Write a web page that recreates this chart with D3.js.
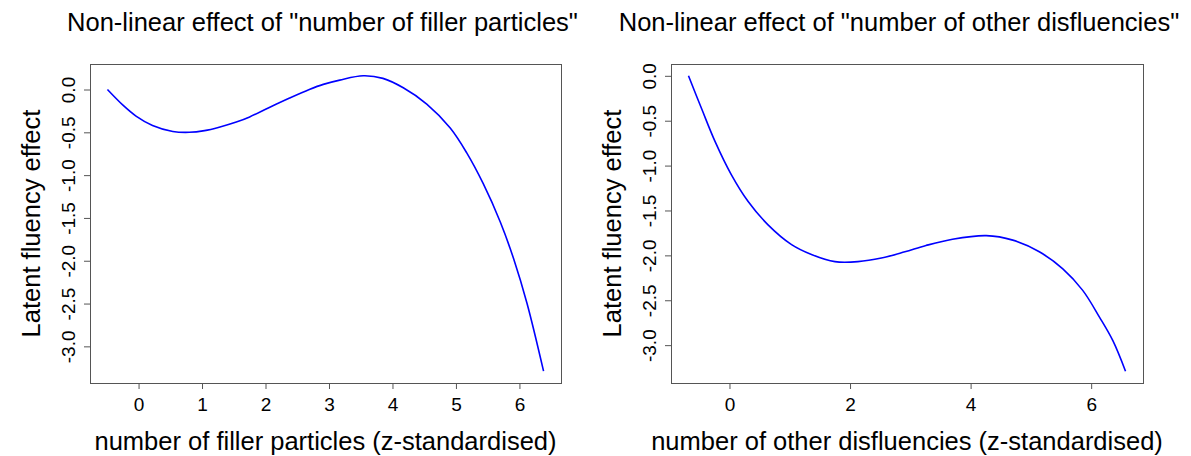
<!DOCTYPE html>
<html>
<head>
<meta charset="utf-8">
<script src="https://cdn.jsdelivr.net/npm/d3@7"></script>
<style>
  html, body { margin: 0; padding: 0; background: #fff; }
  svg { display: block; }
  text { font-family: "Liberation Sans", Arial, sans-serif; fill: #000; }
</style>
</head>
<body>
<svg id="chart" width="1191" height="456"></svg>
<script>
// ---- data ----
const fillerX = [-0.49, -0.25, -0.04, 0.22, 0.54, 0.80, 1.04, 1.27, 1.54, 1.75, 2.06, 2.38, 2.69, 2.91, 3.17, 3.54, 3.85, 4.17, 4.54, 4.91, 5.17, 5.43, 5.70, 5.91, 6.12, 6.38];
const fillerY = [0.0, -0.18, -0.31, -0.42, -0.49, -0.50, -0.48, -0.44, -0.38, -0.32, -0.21, -0.10, 0.0, 0.06, 0.11, 0.16, 0.13, 0.02, -0.17, -0.45, -0.74, -1.10, -1.55, -1.98, -2.50, -3.29];
const otherX = [-0.68, -0.46, -0.24, 0.03, 0.31, 0.64, 1.03, 1.36, 1.75, 2.13, 2.52, 2.91, 3.26, 3.70, 4.26, 4.70, 5.14, 5.53, 5.86, 6.14, 6.36, 6.57];
const otherY = [0.0, -0.37, -0.73, -1.10, -1.40, -1.66, -1.88, -1.99, -2.07, -2.07, -2.03, -1.96, -1.89, -1.82, -1.78, -1.83, -1.96, -2.15, -2.39, -2.69, -2.95, -3.29];
const fillerXTicks = [0, 1, 2, 3, 4, 5, 6];
const otherXTicks = [0, 2, 4, 6];
const yTicks = [0.0, -0.5, -1.0, -1.5, -2.0, -2.5, -3.0];
const titles = ['Non-linear effect of "number of filler particles"', 'Non-linear effect of "number of other disfluencies"'];
const xTitles = ['number of filler particles (z-standardised)', 'number of other disfluencies (z-standardised)'];
const yTitle = 'Latent fluency effect';

const svg = d3.select('#chart');
const FONT = '"Liberation Sans", Arial, sans-serif';
const fmtY = d => (d < 0 ? '-' : '') + Math.abs(d).toFixed(1);

function rDomain(arr) {
  const [a, b] = d3.extent(arr);
  const pad = (b - a) * 0.04;
  return [a - pad, b + pad];
}

function panel(cfg) {
  const { left, right, top, bottom, xs, ys, xTicks, title, xTitle, titleShift } = cfg;
  const x = d3.scaleLinear().domain(rDomain(xs)).range([left, right]);
  const y = d3.scaleLinear().domain(rDomain(ys)).range([bottom, top]);
  const g = svg.append('g');

  // x axis
  const xa = g.append('g').attr('transform', `translate(0,${bottom})`)
    .call(d3.axisBottom(x).tickValues(xTicks).tickSize(6).tickPadding(9).tickFormat(d => String(d)));
  xa.select('.domain').remove();
  xa.selectAll('line').attr('stroke', '#555');
  xa.selectAll('text').style('font-size', '19px').style('font-family', FONT);

  // y axis
  const ya = g.append('g').attr('transform', `translate(${left},0)`)
    .call(d3.axisLeft(y).tickValues(yTicks).tickSize(6).tickFormat(fmtY));
  ya.select('.domain').remove();
  ya.selectAll('line').attr('stroke', '#555');
  ya.selectAll('text')
    .style('font-size', '19px')
    .style('font-family', FONT)
    .attr('x', null).attr('dy', null)
    .attr('text-anchor', 'middle')
    .attr('dominant-baseline', 'central')
    .attr('transform', 'translate(-22,0) rotate(-90)');

  // box
  g.append('rect')
    .attr('x', left + 0.5).attr('y', top + 0.5)
    .attr('width', right - left).attr('height', bottom - top)
    .attr('fill', 'none').attr('stroke', '#555').attr('stroke-width', 1);

  // curve
  const pts = xs.map((v, i) => [v, ys[i]]);
  g.append('path')
    .datum(pts)
    .attr('fill', 'none')
    .attr('stroke', '#0000ff')
    .attr('stroke-width', 1.6)
    .attr('d', d3.line().x(d => x(d[0])).y(d => y(d[1])).curve(d3.curveCatmullRom.alpha(0.5)));

  // titles
  g.append('text').attr('x', (left + right) / 2 + titleShift).attr('y', 31)
    .attr('text-anchor', 'middle').style('font-size', '25.5px').text(title);
  g.append('text').attr('x', (left + right) / 2).attr('y', 450)
    .attr('text-anchor', 'middle').style('font-size', '25.5px').text(xTitle);
  g.append('text')
    .attr('transform', `translate(${left - 59},${(top + bottom) / 2}) rotate(-90)`)
    .attr('text-anchor', 'middle').attr('dominant-baseline', 'central')
    .style('font-size', '25.5px').text(yTitle);
}

panel({ left: 90, right: 561, top: 64, bottom: 383, xs: fillerX, ys: fillerY, xTicks: fillerXTicks, title: titles[0], xTitle: xTitles[0], titleShift: -3 });
panel({ left: 671, right: 1143, top: 64, bottom: 383, xs: otherX, ys: otherY, xTicks: otherXTicks, title: titles[1], xTitle: xTitles[1], titleShift: -8 });
</script>
</body>
</html>
